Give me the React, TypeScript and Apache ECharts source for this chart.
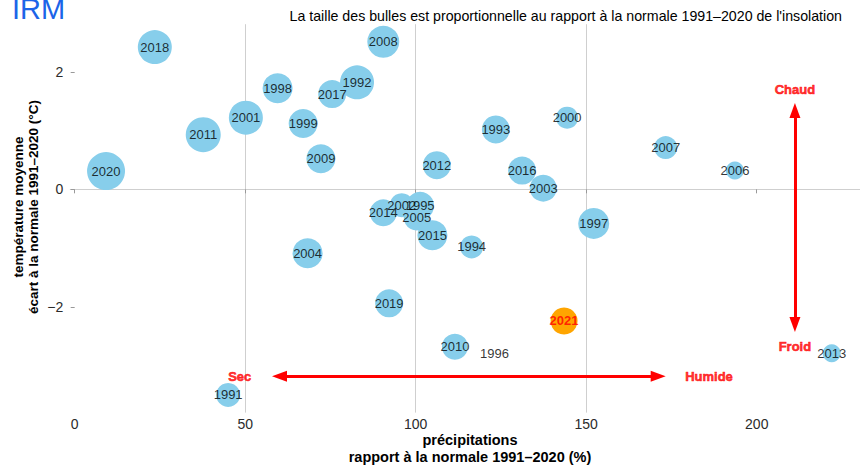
import { useEffect, useRef } from "react";
import * as echarts from "echarts";

// Years, precipitation ratio (% of 1991-2020 normal), temperature anomaly (°C), sunshine ratio (% of normal)
const years = [1991, 1992, 1993, 1994, 1995, 1996, 1997, 1998, 1999, 2000, 2001, 2002, 2003, 2004, 2005, 2006, 2007, 2008, 2009, 2010, 2011, 2012, 2013, 2014, 2015, 2016, 2017, 2018, 2019, 2020, 2021];
const precipitation = [45.0, 82.8, 123.5, 116.4, 101.3, 123.1, 152.2, 59.5, 67.0, 144.4, 50.2, 95.9, 137.4, 68.3, 100.3, 193.6, 173.3, 90.5, 72.2, 111.5, 37.7, 106.2, 222.0, 90.5, 104.9, 131.2, 75.5, 23.5, 92.2, 9.2, 143.5];
const temperature = [-3.5, 1.82, 1.02, -0.98, -0.28, -2.79, -0.58, 1.72, 1.12, 1.22, 1.22, -0.27, 0.02, -1.09, -0.48, 0.32, 0.71, 2.51, 0.52, -2.68, 0.93, 0.41, -2.79, -0.4, -0.78, 0.32, 1.62, 2.42, -1.94, 0.31, -2.24];
const insolation = [109, 119, 113, 108, 113, 85, 116, 115, 114, 107, 119, 109, 112, 115, 111, 103, 108, 117, 114, 111, 120, 113, 103, 112, 115, 113, 113, 119, 113, 123, 112];
const highlightYear = 2021;

const annotationLabels = ["Sec", "Humide", "Chaud", "Froid"];
const annotationX = [48.4, 186.0, 211.2, 211.2];
const annotationY = [-3.18, -3.18, 1.7, -2.67];

const xTicks = [0, 50, 100, 150, 200];
const yTicks = [-2, 0, 2];

const FONT = "'Liberation Sans', Arial, Helvetica, sans-serif";

export default function App() {
  const ref = useRef<HTMLDivElement>(null);

  useEffect(() => {
    if (!ref.current) return;
    const chart = echarts.init(ref.current, null, { renderer: "svg" });

    const bubbleData = years.map((y, i) => ({
      name: String(y),
      value: [precipitation[i], temperature[i], insolation[i]],
      itemStyle: { color: y === highlightYear ? "#FFA500" : "#87CEEB" },
    }));

    const labelData = years.map((y, i) => ({
      name: String(y),
      value: [precipitation[i], temperature[i]],
      label:
        y === highlightYear
          ? { color: "#FF0000", fontWeight: "bold" as const }
          : { color: "#000000" },
    }));

    const annotData = annotationLabels.map((t, i) => ({
      name: t,
      value: [annotationX[i], annotationY[i]],
    }));

    const option: any = {
      animation: false,
      grid: {
        left: 69.9,
        top: 24.2,
        width: 798,
        height: 388.4,
        containLabel: false,
        outerBoundsMode: "none",
      },
      xAxis: {
        type: "value",
        min: -1.4,
        max: 232.6,
        splitNumber: 5,
        axisLine: { show: false },
        axisTick: {
          show: true,
          customValues: xTicks,
          length: 4,
          lineStyle: { color: "#999999" },
        },
        axisLabel: {
          customValues: xTicks,
          margin: 4,
          color: "#2b2b2b",
          fontSize: 14,
          fontFamily: FONT,
        },
        splitLine: {
          show: true,
          showMinLine: false,
          showMaxLine: false,
          lineStyle: { color: "#cfcfcf", width: 1 },
        },
      },
      yAxis: {
        type: "value",
        min: -3.8,
        max: 2.81,
        splitNumber: 3,
        axisLine: { show: false },
        axisTick: {
          show: true,
          customValues: yTicks,
          length: 4,
          lineStyle: { color: "#999999" },
        },
        axisLabel: {
          customValues: yTicks,
          margin: 6.6,
          color: "#2b2b2b",
          fontSize: 14,
          fontFamily: FONT,
          formatter: (v: number) => (v < 0 ? "\u2212" + Math.abs(v) : String(v)),
        },
        splitLine: {
          show: true,
          showMinLine: false,
          showMaxLine: false,
          lineStyle: { color: "#cfcfcf", width: 1 },
        },
      },
      series: [
        {
          type: "scatter",
          name: "bulles",
          data: bubbleData,
          symbolSize: (val: number[]) => Math.max(0, val[2] - 85),
          itemStyle: { opacity: 1 },
          z: 2,
          markLine: {
            silent: true,
            symbol: ["triangle", "triangle"],
            symbolSize: [11, 15],
            label: { show: false },
            lineStyle: { color: "#FF0000", width: 3, type: "solid" },
            data: [
              [{ coord: [60.06, -3.18] }, { coord: [171.1, -3.18] }],
              [{ coord: [211.2, 1.34] }, { coord: [211.2, -2.3] }],
            ],
          },
        },
        {
          type: "scatter",
          name: "labels",
          data: labelData,
          symbolSize: 0,
          z: 4,
          silent: true,
          label: {
            show: true,
            position: "inside",
            formatter: (p: any) => p.name,
            fontSize: 13,
            fontFamily: FONT,
          },
        },
        {
          type: "scatter",
          name: "annotations",
          data: annotData,
          symbolSize: 0,
          z: 5,
          silent: true,
          label: {
            show: true,
            position: "inside",
            formatter: (p: any) => p.name,
            fontSize: 13,
            fontWeight: "bold",
            color: "#FF0000",
            textBorderColor: "#FF0000",
            textBorderWidth: 0.6,
            fontFamily: FONT,
          },
        },
      ],
      graphic: [
        {
          type: "text",
          x: 12,
          y: 9,
          style: {
            text: "IRM",
            fontSize: 29,
            fontWeight: "normal",
            fontFamily: FONT,
            fill: "#1c64e8",
            textAlign: "left",
            textVerticalAlign: "middle",
          },
        },
        {
          type: "text",
          x: 842,
          y: 16,
          style: {
            text: "La taille des bulles est proportionnelle au rapport \u00e0 la normale 1991\u20132020 de l'insolation",
            fontSize: 14.2,
            fontFamily: FONT,
            fill: "#000000",
            textAlign: "right",
            textVerticalAlign: "middle",
          },
        },
        {
          type: "text",
          x: 25.8,
          y: 207,
          rotation: Math.PI / 2,
          style: {
            text: "temp\u00e9rature moyenne\n\u00e9cart \u00e0 la normale 1991\u20132020 (\u00b0C)",
            fontSize: 13.5,
            fontWeight: "bold",
            fontFamily: FONT,
            fill: "#000000",
            textAlign: "center",
            textVerticalAlign: "middle",
            lineHeight: 15,
          },
        },
        {
          type: "text",
          x: 470,
          y: 440,
          style: {
            text: "pr\u00e9cipitations",
            fontSize: 14.5,
            fontWeight: "bold",
            fontFamily: FONT,
            fill: "#000000",
            textAlign: "center",
            textVerticalAlign: "middle",
          },
        },
        {
          type: "text",
          x: 470,
          y: 457,
          style: {
            text: "rapport \u00e0 la normale 1991\u20132020 (%)",
            fontSize: 14.5,
            fontWeight: "bold",
            fontFamily: FONT,
            fill: "#000000",
            textAlign: "center",
            textVerticalAlign: "middle",
          },
        },
      ],
    };

    chart.setOption(option);
    return () => chart.dispose();
  }, []);

  return <div ref={ref} style={{ width: 860, height: 467, position: "absolute", left: 0, top: 0 }} />;
}
